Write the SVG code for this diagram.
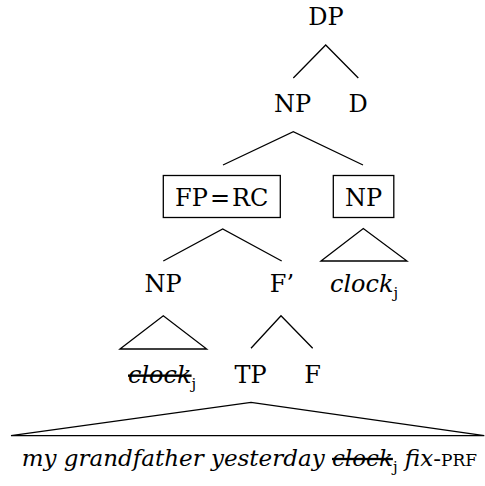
<svg xmlns="http://www.w3.org/2000/svg" width="485" height="486" viewBox="0 0 485 486">
<style>
text{font-family:"DejaVu Serif","Liberation Serif",serif;font-size:24px;fill:#000}
.lab{text-anchor:middle}
.it{font-style:italic}
.sub{font-size:15px;font-style:normal}
.sc{font-size:17px;font-style:normal}
.strike{text-decoration:line-through}
.term{font-size:23px}
.ln{stroke:#000;stroke-width:1.3;fill:none}
</style>
<rect width="485" height="486" fill="#fff"/>
<g id="connectors" class="ln">
<polyline points="293.3,78 325.7,45 358.3,78"/>
<polyline points="223,165 293.3,131.7 363,165"/>
<polyline points="163.3,261 222.7,229 281.7,261"/>
<polygon points="321,261 363.3,228.5 407,261"/>
<polygon points="120,349 163.3,315.7 206.7,349"/>
<polyline points="251,348.3 281,315.7 312.7,348.3"/>
<polygon points="11,435.7 251,402.3 484.3,435.7"/>
</g>
<g id="DP"><text class="lab" x="326" y="25">DP</text></g>
<g id="NP1"><text class="lab" x="292.5" y="112">NP</text></g>
<g id="D"><text class="lab" x="358" y="112">D</text></g>
<g id="FP"><rect class="ln" x="163.3" y="175.5" width="117" height="42"/><text class="lab" x="221.8" y="206">FP<tspan dx="2">=</tspan><tspan dx="2">RC</tspan></text></g>
<g id="NP2"><rect class="ln" x="333.3" y="175.5" width="60.5" height="42"/><text class="lab" x="363.5" y="206">NP</text></g>
<g id="NP3"><text class="lab" x="163" y="292">NP</text></g>
<g id="Fbar"><text class="lab" x="282" y="292">F’</text></g>
<g id="clock1"><text x="330" y="292"><tspan class="it">clock</tspan><tspan class="sub" dy="6">j</tspan></text></g>
<g id="clock2"><text x="128" y="383"><tspan class="it strike">clock</tspan><tspan class="sub" dy="6">j</tspan></text></g>
<g id="TP"><text class="lab" x="250.5" y="383">TP</text></g>
<g id="F"><text class="lab" x="312.5" y="383">F</text></g>
<g id="terminal"><text class="term" x="21.7" y="466"><tspan class="it">my grandfather yesterday </tspan><tspan class="it strike">clock</tspan><tspan class="sub" dy="6">j</tspan><tspan class="it" dy="-6"> fix</tspan><tspan>-</tspan><tspan class="sc">PRF</tspan></text></g>
</svg>
